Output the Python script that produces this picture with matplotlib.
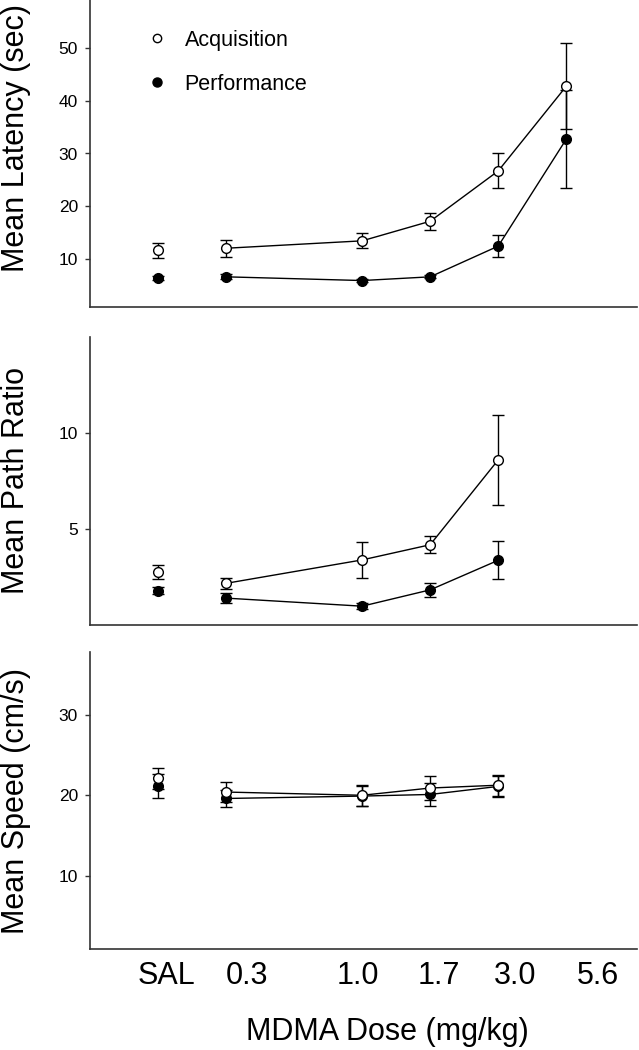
import matplotlib
matplotlib.use("Agg")
import matplotlib.pyplot as plt
from matplotlib.lines import Line2D

plt.rcParams['font.family'] = ['Liberation Sans', 'DejaVu Sans']

# dose slots (0.56 slot left empty)
dose_pos = [0, 1, 3, 4, 5, 6]
dose_labels = ["SAL", "0.3", "1.0", "1.7", "3.0", "5.6"]
label_pos = [0.13, 1.31, 2.93, 4.12, 5.25, 6.46]

# latency (sec)
lat_acq = [11.7, 12.1, 13.5, 17.2, 26.7, 42.7]
lat_acq_err = [1.4, 1.6, 1.4, 1.6, 3.3, 8.1]
lat_perf = [6.5, 6.7, 6.0, 6.7, 12.5, 32.7]
lat_perf_err = [0.4, 0.5, 0.3, 0.3, 2.1, 9.3]

# path ratio
path_acq = [2.77, 2.17, 3.39, 4.18, 8.60]
path_acq_err = [0.35, 0.28, 0.92, 0.45, 2.33]
path_perf = [1.78, 1.40, 0.98, 1.83, 3.37]
path_perf_err = [0.18, 0.25, 0.17, 0.38, 1.0]

# speed (cm/s)
speed_acq = [22.1, 20.4, 20.0, 20.9, 21.25]
speed_acq_err = [1.3, 1.2, 1.3, 1.5, 1.3]
speed_perf = [21.1, 19.6, 19.9, 20.1, 21.1]
speed_perf_err = [1.5, 1.0, 1.2, 1.4, 1.3]

W, H = 639, 1050
fig = plt.figure(figsize=(W / 100, H / 100), dpi=100)


def make_ax(top, bottom):
    return fig.add_axes([90 / W, 1 - bottom / H, (637 - 90) / W, (bottom - top) / H])


def draw(ax, y, yerr, filled, z):
    x = dose_pos[:len(y)]
    ax.errorbar(x, y, yerr=yerr, fmt='none', ecolor='black', elinewidth=1,
                capsize=4, capthick=1, zorder=z)
    ax.plot(x[1:], y[1:], color='black', lw=1, zorder=z + 0.1)
    ax.plot(x, y, 'o', ms=7, mew=1, mec='black',
            mfc='black' if filled else 'white', zorder=z + 0.2)


def style(ax, ylim, yticks, ylabel, ly):
    ax.set_xlim(-1, 7.04)
    ax.set_ylim(*ylim)
    ax.set_yticks(yticks)
    for s in ['top', 'right']:
        ax.spines[s].set_visible(False)
    for s in ['left', 'bottom']:
        ax.spines[s].set_color('#333333')
        ax.spines[s].set_linewidth(1.2)
    ax.tick_params(axis='y', direction='out', length=3.6, width=1,
                   color='#333333', labelsize=12.5, pad=5)
    ax.tick_params(axis='x', length=0)
    ax.set_xticks([])
    ax.set_ylabel(ylabel, fontsize=22)
    ax.yaxis.label.set_va('center')
    ax.yaxis.set_label_coords(-0.135, ly)


ax1 = make_ax(0, 307)
draw(ax1, lat_perf, lat_perf_err, True, 2)
draw(ax1, lat_acq, lat_acq_err, False, 3)
style(ax1, (1, 59), [10, 20, 30, 40, 50], "Mean Latency (sec)", 0.55)

handles = [
    Line2D([], [], ls='none', marker='o', ms=6, mew=1, mec='black', mfc='white'),
    Line2D([], [], ls='none', marker='o', ms=6.5, mew=1, mec='black', mfc='black'),
]
ax1.legend(handles, ["Acquisition", "Performance"], frameon=False, fontsize=15.5,
           loc='upper left', bbox_to_anchor=(146 / W, 1 - 30 / H),
           bbox_transform=fig.transFigure, borderpad=0, borderaxespad=0,
           handlelength=1.0, handletextpad=0.8, labelspacing=1.05)

ax2 = make_ax(337, 625)
draw(ax2, path_perf, path_perf_err, True, 2)
draw(ax2, path_acq, path_acq_err, False, 3)
style(ax2, (0, 15), [5, 10], "Mean Path Ratio", 0.503)

ax3 = make_ax(652, 949)
draw(ax3, speed_perf, speed_perf_err, True, 2)
draw(ax3, speed_acq, speed_acq_err, False, 3)
style(ax3, (0.9, 37.8), [10, 20, 30], "Mean Speed (cm/s)", 0.50)
ax3.set_xticks(label_pos)
ax3.set_xticklabels(dose_labels, fontsize=22)
ax3.tick_params(axis='x', length=0, pad=9)
ax3.set_xlabel("MDMA Dose (mg/kg)", fontsize=22)
ax3.xaxis.set_label_coords(0.543, -0.279)
ax3.xaxis.label.set_va('center')

fig.savefig("out.png", dpi=100)
